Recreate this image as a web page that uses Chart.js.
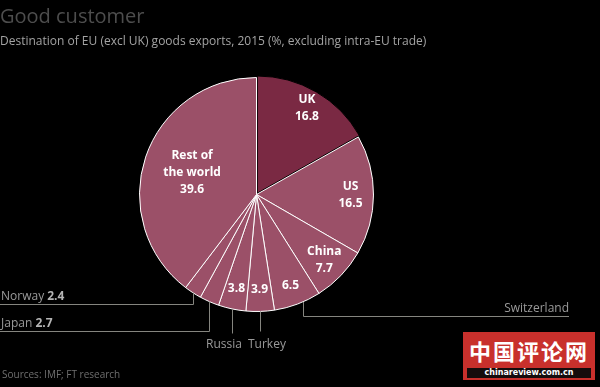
<!DOCTYPE html>
<html lang="en">
    <head>
        <script src="https://cdn.jsdelivr.net/npm/chart.js@4.4.1/dist/chart.umd.min.js"></script>
        <meta charset="UTF-8"/>
        <title>Good customer</title>
        <style>
            body { margin: 0; background: #000; font-family: "Open Sans", sans-serif; }
            #wrap { position: relative; width: 600px; height: 387px; overflow: hidden; }
            #title { position: absolute; left: 0; top: 2px; font-size: 20px; color: #4d4d4d; }
            #sub { position: absolute; left: 0; top: 32px; font-size: 12px; color: #a3a3a3; }
            #source { position: absolute; left: 2px; top: 367px; font-size: 10px; color: #6f6f6f; }
            #mark { position: absolute; left: 463px; top: 332px; width: 132px; height: 48px; background: #c8302c; }
            #mark .cn { position: absolute; left: 0; top: 4px; width: 132px; text-align: center; color: #fff; font: bold 22px "Noto Sans CJK SC"; line-height: 28px; letter-spacing: 2px; white-space: nowrap; }
            #mark .en { position: absolute; left: 4px; top: 36px; width: 124px; height: 10px; background: #150c0c; color: #fff; font: bold 8px "DejaVu Sans"; text-align: center; line-height: 10px; white-space: nowrap; }
        </style>
    </head>
    <body>
        <div id="wrap">
            <canvas id="chart" width="600" height="387"></canvas>
            <div id="title">Good customer</div>
            <div id="sub">Destination of EU (excl UK) goods exports, 2015 (%, excluding intra-EU trade)</div>
            <div id="source">Sources: IMF; FT research</div>
            <div id="mark"><div class="cn">中国评论网</div><div class="en">chinareview.com.cn</div></div>
        </div>

        <script>
            // slices, clockwise from 12 o'clock
            const categories = ['UK', 'US', 'China', 'Switzerland', 'Turkey', 'Russia', 'Japan', 'Norway', 'Rest of the world'];
            const shares = [16.8, 16.5, 7.7, 6.5, 3.9, 3.8, 2.7, 2.4, 39.6];

            // text inside the slices (null = labelled outside)
            const insideText = [['UK', '16.8'], ['US', '16.5'], ['China', '7.7'], ['6.5'], ['3.9'], ['3.8'], null, null, ['Rest of', 'the world', '39.6']];
            const insideRadius = [100, 94, 94, 97, 95, 96, 0, 0, 68];

            // outside labels with leader lines
            const leaders = [
                { i: 3, frac: 0.38, downTo: 316, across: 569, text: 'Switzerland', tx: 569, ty: 312, align: 'right' },
                { i: 4, frac: 0.5, downTo: 331, text: 'Turkey', tx: 248, ty: 348, align: 'left' },
                { i: 5, frac: 0.5, downTo: 333, text: 'Russia', tx: 242, ty: 348, align: 'right' },
                { i: 6, frac: 0.5, downTo: 331, across: 0, text: 'Japan', value: '2.7', tx: 1, ty: 327, align: 'left' },
                { i: 7, frac: 0.5, downTo: 304, across: 0, text: 'Norway', value: '2.4', tx: 1, ty: 300, align: 'left' }
            ];

            const sliceLabels = {
                id: 'sliceLabels',
                afterDatasetsDraw(chart) {
                    const ctx = chart.ctx;
                    const arcs = chart.getDatasetMeta(0).data;
                    ctx.save();

                    // white text inside
                    ctx.fillStyle = '#ffffff';
                    ctx.font = 'bold 12px "Open Sans"';
                    ctx.textAlign = 'center';
                    ctx.textBaseline = 'middle';
                    arcs.forEach((arc, i) => {
                        if (!insideText[i]) return;
                        const p = arc.getProps(['x', 'y', 'startAngle', 'endAngle']);
                        const mid = (p.startAngle + p.endAngle) / 2;
                        const cx = p.x + Math.cos(mid) * insideRadius[i];
                        const cy = p.y + Math.sin(mid) * insideRadius[i];
                        const lines = insideText[i];
                        lines.forEach((t, k) => {
                            ctx.fillText(t, cx, cy + (k - (lines.length - 1) / 2) * 17);
                        });
                    });

                    // leader lines
                    ctx.strokeStyle = '#85857f';
                    ctx.lineWidth = 1;
                    ctx.textBaseline = 'alphabetic';
                    leaders.forEach(l => {
                        const p = arcs[l.i].getProps(['x', 'y', 'startAngle', 'endAngle', 'outerRadius']);
                        const a = p.startAngle + (p.endAngle - p.startAngle) * l.frac;
                        const x = Math.round(p.x + Math.cos(a) * p.outerRadius) + 0.5;
                        const y = p.y + Math.sin(a) * p.outerRadius;
                        ctx.beginPath();
                        ctx.moveTo(x, y);
                        ctx.lineTo(x, l.downTo + 0.5);
                        if (l.across !== undefined) ctx.lineTo(l.across, l.downTo + 0.5);
                        ctx.stroke();

                        ctx.textAlign = l.align;
                        ctx.font = '12px "Open Sans"';
                        ctx.fillStyle = '#9a9a9a';
                        ctx.fillText(l.text, l.tx, l.ty);
                        if (l.value) {
                            const w = ctx.measureText(l.text + ' ').width;
                            ctx.font = 'bold 12px "Open Sans"';
                            ctx.fillStyle = '#b5b5b5';
                            ctx.fillText(l.value, l.tx + w, l.ty);
                        }
                    });
                    ctx.restore();
                }
            };

            const ctx = document.getElementById('chart').getContext('2d');
            new Chart(ctx, {
                type: 'pie',
                data: {
                    labels: categories,
                    datasets: [{
                        data: shares,
                        backgroundColor: categories.map(c => c === 'UK' ? '#7a2943' : '#9b5068'),
                        borderColor: categories.map(c => c === 'UK' ? '#000000' : '#ffffff'),
                        borderWidth: 1,
                        offset: categories.map(c => c === 'UK' ? 6 : 0),
                        hoverOffset: 0
                    }]
                },
                options: {
                    responsive: false,
                    animation: false,
                    events: [],
                    layout: { padding: { left: 136, right: 223, top: 74, bottom: 72 } },
                    plugins: {
                        legend: { display: false },
                        tooltip: { enabled: false }
                    }
                },
                plugins: [sliceLabels]
            });
        </script>
    </body>
</html>
